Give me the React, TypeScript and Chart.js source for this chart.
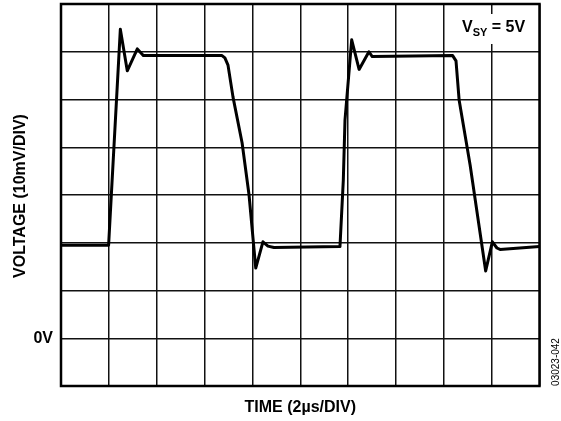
import React, { useEffect, useRef } from "react";
import { Chart, registerables } from "chart.js";

Chart.register(...registerables);

// Time axis in µs (2 µs per division), voltage in mV (10 mV per division)
const timeUs = [
  0, 1.99, 2.48, 2.77, 3.19, 3.44, 6.73, 6.85, 6.98, 7.19, 7.57, 7.86, 8.07,
  8.14, 8.44, 8.65, 8.9, 11.66, 11.8, 11.87, 12.15, 12.46, 12.87, 13.01, 16.37,
  16.51, 16.64, 17.1, 17.75, 18.03, 18.22, 18.35, 20,
];
const voltageMv = [
  19.5, 19.5, 64.7, 56.0, 60.6, 59.2, 59.2, 58.7, 57.2, 50.5, 40.9, 30.0, 18.5,
  14.7, 20.2, 19.3, 19.0, 19.2, 33.1, 45.7, 62.5, 56.3, 60.0, 59.0, 59.2, 58.1,
  49.9, 36.3, 14.1, 20.2, 18.9, 18.6, 19.2,
];

const xTitle = "TIME (2µs/DIV)";
const yTitle = "VOLTAGE (10mV/DIV)";
const zeroLabel = "0V";
const figureCode = "03023-042";

const FONT = "'Liberation Sans', Arial, sans-serif";

const annotations = {
  id: "annotations",
  afterDraw(chart: any) {
    const { ctx, chartArea: a } = chart;
    const yScale = chart.scales.y;
    ctx.save();

    // plot frame
    ctx.strokeStyle = "#000";
    ctx.lineWidth = 2.5;
    ctx.strokeRect(a.left, a.top, a.right - a.left, a.bottom - a.top);

    // supply label with white backing
    ctx.fillStyle = "#fff";
    ctx.fillRect(455, 14, 78, 30);
    ctx.fillStyle = "#000";
    ctx.textBaseline = "alphabetic";
    ctx.textAlign = "left";
    let x = 462;
    ctx.font = `bold 16px ${FONT}`;
    ctx.fillText("V", x, 32);
    x += ctx.measureText("V").width;
    ctx.font = `bold 11px ${FONT}`;
    ctx.fillText("SY", x, 36);
    x += ctx.measureText("SY").width;
    ctx.font = `bold 16px ${FONT}`;
    ctx.fillText(" = 5V", x, 32);

    // zero-volt marker
    ctx.textAlign = "right";
    ctx.textBaseline = "middle";
    ctx.fillText(zeroLabel, 53, yScale.getPixelForValue(0));

    // axis titles
    ctx.textAlign = "center";
    ctx.fillText(xTitle, (a.left + a.right) / 2, 408);

    ctx.save();
    ctx.translate(21, 196);
    ctx.rotate(-Math.PI / 2);
    ctx.fillText(yTitle, 0, 0);
    ctx.restore();

    // figure code
    ctx.save();
    ctx.translate(556, 362);
    ctx.rotate(-Math.PI / 2);
    ctx.font = `10px ${FONT}`;
    ctx.fillText(figureCode, 0, 0);
    ctx.restore();

    ctx.restore();
  },
};

export default function App() {
  const canvasRef = useRef<HTMLCanvasElement>(null);

  useEffect(() => {
    const canvas = canvasRef.current;
    if (!canvas) return;
    const points = timeUs.map((t, i) => ({ x: t, y: voltageMv[i] }));
    const chart = new Chart(canvas, {
      type: "scatter",
      data: {
        datasets: [
          {
            data: points,
            showLine: true,
            borderColor: "#000",
            borderWidth: 3,
            pointRadius: 0,
            tension: 0,
            borderJoinStyle: "round",
          },
        ],
      },
      options: {
        responsive: false,
        animation: false,
        devicePixelRatio: 1,
        layout: { padding: { left: 0, top: 4, right: 21.5, bottom: 0 } },
        plugins: {
          legend: { display: false },
          tooltip: { enabled: false },
        },
        scales: {
          x: {
            type: "linear",
            min: 0,
            max: 20,
            ticks: { stepSize: 2, display: false },
            grid: { color: "#111", lineWidth: 1.5, drawTicks: false },
            border: { display: false },
            afterFit: (s: any) => {
              s.height = 35;
              s.paddingLeft = 0;
              s.paddingRight = 0;
            },
          },
          y: {
            type: "linear",
            min: -10,
            max: 70,
            ticks: { stepSize: 10, display: false },
            grid: { color: "#111", lineWidth: 1.5, drawTicks: false },
            border: { display: false },
            afterFit: (s: any) => {
              s.width = 61;
              s.paddingTop = 0;
              s.paddingBottom = 0;
            },
          },
        },
      },
      plugins: [annotations],
    });
    return () => chart.destroy();
  }, []);

  return (
    <div style={{ position: "fixed", left: 0, top: 0, width: 561, height: 421, background: "#fff" }}>
      <canvas ref={canvasRef} width={561} height={421} />
    </div>
  );
}
